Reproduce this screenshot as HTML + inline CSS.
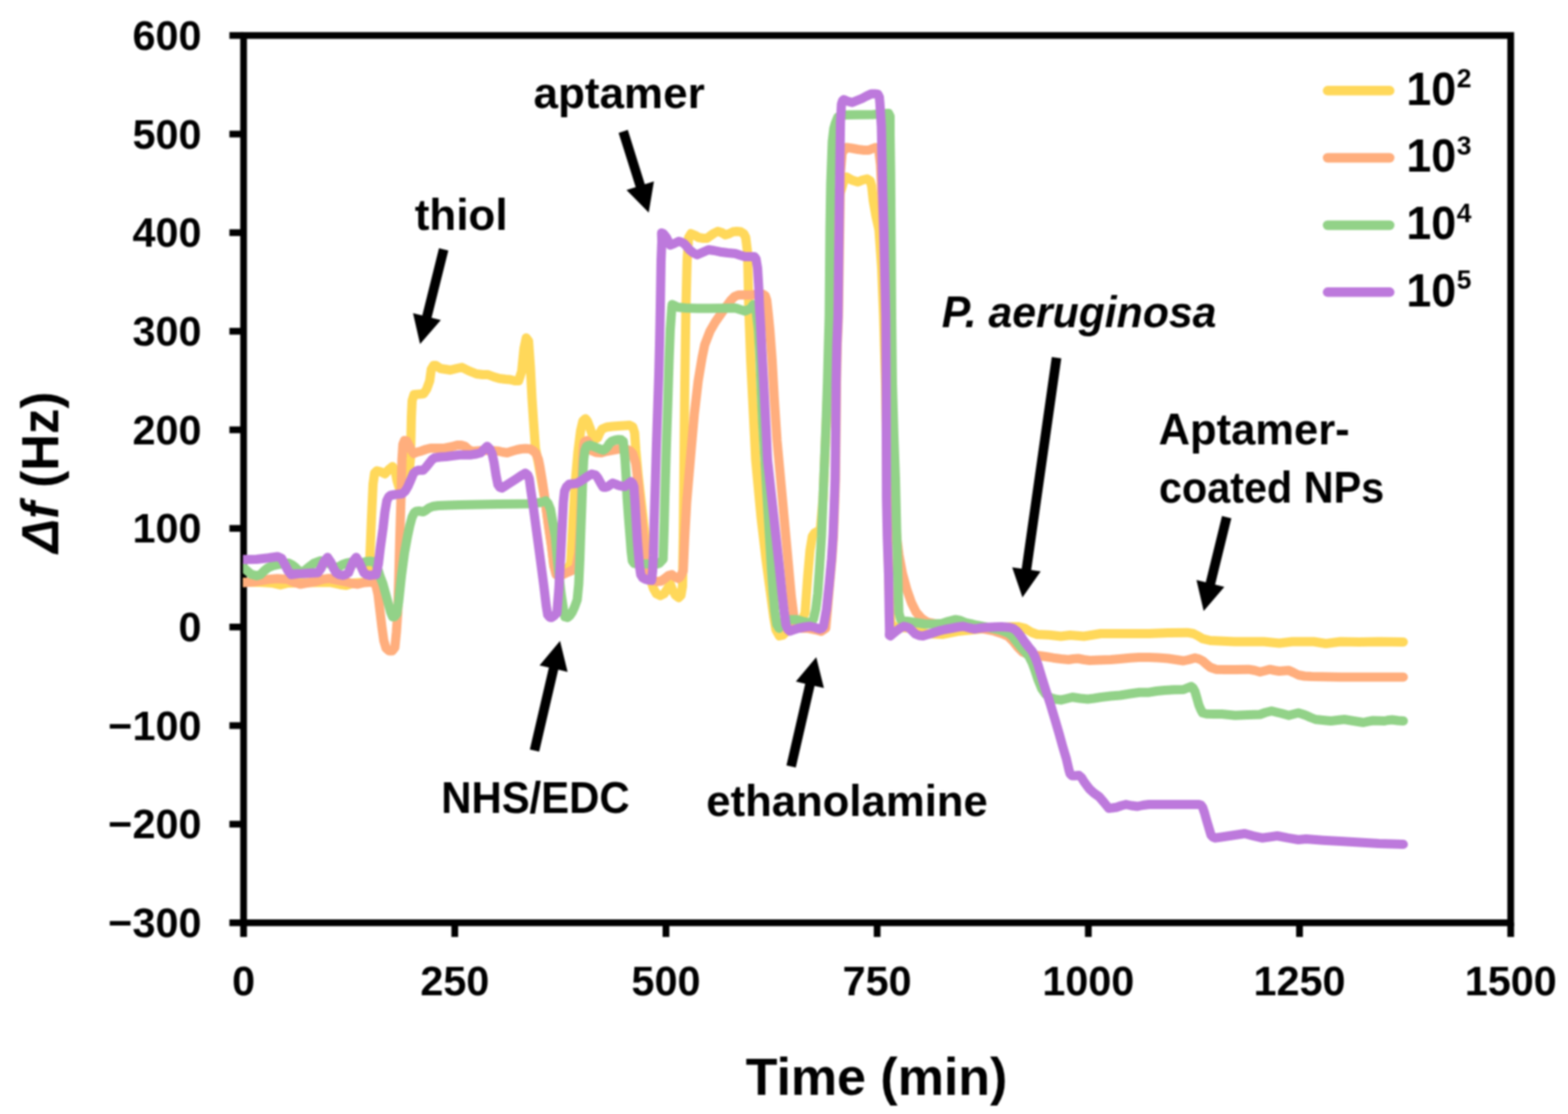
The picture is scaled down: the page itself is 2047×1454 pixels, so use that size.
<!DOCTYPE html>
<html lang="en"><head><meta charset="utf-8"><title>QCM frequency shift</title>
<style>html,body{margin:0;padding:0;background:#fff}svg{display:block}text{font-family:"Liberation Sans", sans-serif;font-weight:bold;fill:#000}</style></head><body>
<svg width="2047" height="1454" viewBox="0 0 2047 1454">
<defs><filter id="soft" x="0" y="0" width="2047" height="1454" filterUnits="userSpaceOnUse" color-interpolation-filters="sRGB"><feGaussianBlur stdDeviation="0.85"/></filter></defs>
<g filter="url(#soft)">
<rect width="2047" height="1454" fill="#fff"/>
<g stroke="#000" stroke-width="8.8" fill="none">
<rect x="318.0" y="46.3" width="1654.2" height="1158.1000000000001"/>
<line x1="299.5" y1="46.30" x2="318.0" y2="46.30"/>
<line x1="299.5" y1="174.98" x2="318.0" y2="174.98"/>
<line x1="299.5" y1="303.66" x2="318.0" y2="303.66"/>
<line x1="299.5" y1="432.33" x2="318.0" y2="432.33"/>
<line x1="299.5" y1="561.01" x2="318.0" y2="561.01"/>
<line x1="299.5" y1="689.69" x2="318.0" y2="689.69"/>
<line x1="299.5" y1="818.37" x2="318.0" y2="818.37"/>
<line x1="299.5" y1="947.04" x2="318.0" y2="947.04"/>
<line x1="299.5" y1="1075.72" x2="318.0" y2="1075.72"/>
<line x1="299.5" y1="1204.40" x2="318.0" y2="1204.40"/>
<line x1="318.00" y1="1204.4" x2="318.00" y2="1222.9"/>
<line x1="593.70" y1="1204.4" x2="593.70" y2="1222.9"/>
<line x1="869.40" y1="1204.4" x2="869.40" y2="1222.9"/>
<line x1="1145.10" y1="1204.4" x2="1145.10" y2="1222.9"/>
<line x1="1420.80" y1="1204.4" x2="1420.80" y2="1222.9"/>
<line x1="1696.50" y1="1204.4" x2="1696.50" y2="1222.9"/>
<line x1="1972.20" y1="1204.4" x2="1972.20" y2="1222.9"/>
</g>
<clipPath id="plot"><rect x="317.2" y="46.3" width="1655.0" height="1158.1000000000001"/></clipPath>
<g fill="none" stroke-width="12" stroke-linejoin="round" stroke-linecap="round" clip-path="url(#plot)">
<polyline stroke="#FFD85A" points="310.0,760.0 318.0,760.0 340.0,760.0 355.0,761.0 366.0,763.5 376.0,761.0 400.0,760.5 430.0,760.0 444.0,763.0 452.0,764.0 462.0,761.0 476.0,760.0 481.0,758.0 483.0,725.0 485.0,675.0 487.0,632.0 489.0,617.5 492.0,614.5 497.5,616.0 502.5,618.5 507.0,613.5 512.5,609.0 516.0,615.0 518.5,628.0 521.0,636.0 526.0,633.0 531.0,626.0 534.5,612.0 535.8,599.0 536.5,570.0 537.0,545.0 538.0,523.0 540.5,515.0 547.0,514.5 553.0,514.0 557.0,508.0 561.0,497.0 563.0,482.0 566.0,477.0 569.0,477.0 575.0,481.0 588.0,483.0 596.0,481.0 603.0,479.5 612.0,484.0 622.0,488.0 630.0,489.0 637.0,489.0 645.0,492.0 652.0,494.0 660.0,495.0 666.0,495.5 672.0,497.0 677.0,497.0 681.0,485.0 684.0,455.0 687.0,441.0 690.0,445.0 692.5,480.0 694.5,520.0 696.5,550.0 699.0,585.0 703.0,605.0 707.0,628.0 712.0,656.0 716.0,686.0 720.0,713.0 723.0,738.0 726.0,749.0 730.0,751.0 735.0,749.0 740.0,745.0 745.0,735.0 748.0,680.0 751.0,630.0 754.5,590.0 758.0,562.0 761.0,549.5 764.3,546.5 767.0,550.0 770.0,558.0 773.0,567.0 776.0,573.0 780.0,572.0 783.0,565.0 786.0,560.0 792.0,557.5 800.0,556.5 807.0,556.0 815.0,555.5 822.0,555.0 826.0,557.0 828.5,565.0 830.0,587.0 833.0,620.0 837.0,655.0 841.0,690.0 845.0,725.0 849.0,755.0 853.0,768.0 857.0,775.0 862.0,777.5 867.0,775.0 871.0,769.0 875.0,762.0 878.0,770.0 882.0,777.0 886.0,780.0 889.0,777.0 891.0,765.0 892.0,700.0 893.0,600.0 894.0,500.0 895.5,400.0 897.0,340.0 899.0,310.0 902.0,305.0 907.0,307.0 912.0,310.0 918.0,311.0 923.0,311.0 927.0,308.0 932.0,304.5 937.0,302.0 942.0,303.5 947.0,306.5 952.0,305.0 957.0,302.5 962.0,302.0 967.0,302.5 971.0,305.0 973.5,310.0 976.0,330.0 977.5,400.0 980.0,470.0 982.5,520.0 986.5,600.0 993.5,675.0 1000.0,730.0 1006.0,775.0 1010.0,805.0 1013.0,822.0 1017.5,830.0 1022.0,829.0 1027.0,824.0 1035.0,820.0 1045.0,814.0 1051.0,800.0 1054.5,752.0 1057.5,718.0 1060.5,700.0 1063.5,695.5 1067.0,694.0 1071.0,690.0 1074.5,650.0 1080.0,520.0 1085.0,420.0 1090.0,330.0 1096.0,255.0 1103.0,232.0 1105.0,231.0 1112.0,235.0 1120.0,237.5 1126.0,235.0 1132.0,233.5 1136.0,236.0 1138.0,243.0 1140.0,262.0 1143.5,282.0 1147.5,300.0 1151.0,350.0 1153.5,413.0 1156.0,500.0 1157.5,600.0 1159.0,700.0 1161.0,780.0 1163.0,812.0 1167.0,818.0 1175.0,819.0 1190.0,820.0 1200.0,823.0 1210.0,827.0 1230.0,828.0 1250.0,824.0 1270.0,822.0 1290.0,820.0 1310.0,819.0 1322.0,818.0 1330.0,818.0 1338.0,820.0 1347.0,825.5 1354.0,828.0 1370.0,828.7 1385.0,830.5 1397.0,829.0 1415.0,830.5 1437.0,827.0 1462.0,827.0 1500.0,827.0 1525.0,826.0 1550.0,825.7 1558.0,827.0 1564.0,830.0 1570.0,833.7 1580.0,836.0 1612.0,837.5 1650.0,837.5 1670.0,839.5 1687.0,837.5 1715.0,837.5 1731.0,840.0 1750.0,837.5 1775.0,838.0 1800.0,837.5 1832.0,838.0"/>
<polyline stroke="#FFAE7D" points="310.0,760.5 318.0,760.5 330.0,759.5 340.0,758.0 352.0,756.0 362.0,755.2 375.0,756.0 384.0,760.0 392.0,762.5 400.0,761.0 412.0,759.0 422.0,756.0 430.0,755.0 440.0,757.0 450.0,759.0 460.0,761.5 467.0,762.5 475.0,760.5 482.0,760.0 488.0,760.0 491.0,765.0 493.5,776.0 496.0,797.0 498.5,818.0 501.0,836.0 504.0,846.0 508.0,849.5 512.0,849.5 515.5,845.0 517.5,825.0 519.2,800.0 520.7,750.0 522.0,700.0 523.5,650.0 524.7,600.0 526.0,580.0 528.0,575.0 531.0,575.5 534.0,581.5 537.0,587.5 540.0,592.0 545.0,590.0 550.0,588.7 556.0,586.5 562.0,585.0 570.0,585.0 580.0,585.0 590.0,583.0 597.0,581.0 602.0,581.0 607.0,582.5 612.0,587.0 617.0,589.0 630.0,588.0 640.0,588.0 650.0,588.7 656.0,590.0 662.0,591.0 668.0,589.0 675.0,587.0 680.0,586.0 686.0,585.5 692.0,586.0 697.0,589.0 700.0,592.5 703.0,600.0 705.0,610.0 708.0,628.0 712.0,655.0 716.0,685.0 720.0,712.0 723.0,738.0 726.0,750.0 730.0,752.5 735.0,750.0 740.0,747.5 746.0,745.0 752.0,741.0 755.5,722.0 757.5,690.0 759.0,650.0 760.0,620.0 761.0,595.0 762.0,581.0 763.0,576.5 766.0,575.0 768.0,577.0 772.0,588.0 778.0,590.5 785.0,591.0 792.0,589.0 800.0,587.5 808.0,586.0 817.0,586.0 822.0,588.0 826.0,592.0 830.0,605.0 833.0,630.0 836.0,660.0 840.0,700.0 843.0,735.0 846.0,752.0 852.0,757.5 858.0,759.0 863.0,758.5 868.0,755.0 873.0,751.0 877.0,750.0 881.0,753.0 885.0,755.0 888.0,753.0 892.0,745.0 894.0,700.0 896.5,655.0 899.5,620.0 902.5,585.0 906.5,540.0 911.5,497.0 916.5,467.0 920.0,450.0 927.0,432.0 934.0,420.0 941.0,410.0 948.0,400.0 954.0,392.0 959.0,387.0 964.0,385.0 972.0,385.0 980.0,385.0 990.0,384.0 996.0,384.0 999.0,386.0 1001.0,392.0 1003.0,410.0 1005.0,430.0 1008.0,470.0 1010.8,520.0 1014.4,575.0 1018.1,615.0 1021.8,655.0 1025.4,695.0 1029.1,735.0 1033.0,778.0 1036.0,802.0 1039.0,815.0 1046.0,820.0 1055.0,820.0 1065.0,822.0 1072.0,824.0 1078.0,820.0 1080.0,797.0 1083.0,762.5 1086.0,730.0 1088.0,700.0 1089.5,660.0 1090.7,625.0 1091.5,560.0 1092.0,500.0 1093.0,450.0 1094.5,413.0 1095.7,330.0 1097.2,225.0 1099.5,199.0 1105.0,192.5 1112.0,193.5 1120.0,195.0 1128.0,196.0 1134.0,196.0 1139.0,194.0 1143.0,192.5 1147.0,194.0 1149.5,215.0 1151.5,260.0 1154.0,320.0 1157.0,400.0 1160.5,480.0 1163.5,560.0 1166.0,620.0 1168.0,670.0 1170.5,700.0 1173.5,724.0 1178.0,748.0 1184.0,770.0 1190.0,787.0 1196.0,799.0 1203.0,807.0 1209.0,811.0 1212.5,812.5 1225.0,815.0 1240.0,817.0 1260.0,818.0 1280.0,820.0 1298.0,823.7 1308.0,827.0 1316.0,830.5 1323.0,837.5 1329.0,845.0 1335.0,851.0 1343.0,854.5 1354.0,855.5 1365.0,857.0 1375.0,858.7 1385.0,860.0 1395.0,861.0 1401.0,860.0 1407.5,859.5 1415.0,861.0 1422.5,862.0 1435.0,861.5 1450.0,861.0 1462.0,860.0 1475.0,858.7 1487.0,858.0 1500.0,858.0 1512.0,858.5 1525.0,859.5 1535.0,861.0 1545.0,862.5 1552.0,861.0 1560.0,858.7 1565.0,860.0 1570.0,862.5 1575.0,867.0 1580.0,871.0 1587.5,873.7 1600.0,874.0 1612.5,874.0 1630.0,873.7 1638.0,875.0 1645.0,877.0 1651.0,875.5 1657.5,873.7 1664.0,875.0 1670.0,876.0 1676.0,875.5 1682.5,875.0 1689.0,878.0 1695.0,881.0 1703.0,882.5 1712.5,883.0 1750.0,883.7 1800.0,883.7 1832.0,883.7"/>
<polyline stroke="#92D288" points="310.0,741.0 318.0,741.0 322.0,744.5 328.0,749.5 335.0,751.5 340.0,750.0 345.0,745.0 350.0,741.0 356.0,738.5 365.0,736.5 377.0,735.0 381.0,737.0 385.0,740.0 390.0,745.0 396.0,746.0 402.0,741.0 410.0,735.0 418.0,732.0 425.0,733.0 432.0,737.0 437.0,740.0 442.0,740.0 447.0,737.0 452.5,735.0 458.0,734.0 465.0,735.0 472.0,735.0 478.0,733.0 482.5,732.5 487.0,733.0 490.0,735.0 493.0,742.0 496.0,752.0 500.0,762.5 504.0,777.0 507.5,790.0 510.0,799.0 512.5,805.0 515.0,805.0 518.0,801.0 520.5,785.0 524.0,752.0 528.0,722.0 532.0,700.0 535.0,686.0 538.0,675.0 541.0,669.0 543.0,667.5 547.0,667.0 552.5,668.0 556.0,666.0 560.0,663.0 565.0,661.0 572.0,660.0 585.0,659.5 600.0,659.0 625.0,658.5 650.0,658.0 675.0,657.7 690.0,657.5 700.0,656.5 705.0,656.0 709.0,655.0 712.5,653.7 715.5,657.0 718.7,665.0 721.0,678.0 725.0,700.0 728.0,735.0 732.5,775.0 735.5,795.0 737.5,805.0 741.0,806.0 743.7,803.7 747.0,799.0 750.0,792.5 753.5,783.0 755.5,762.5 757.0,730.0 758.0,700.0 759.5,660.0 760.7,625.0 762.0,600.0 763.5,588.0 765.5,583.0 768.0,581.5 770.0,581.0 777.5,583.7 783.0,586.0 787.5,587.5 790.0,586.0 792.5,583.7 795.5,579.0 798.7,576.0 803.0,574.5 807.5,573.7 811.0,574.0 813.7,576.0 815.0,590.0 816.0,600.0 817.5,625.0 818.7,650.0 820.5,675.0 822.5,700.0 824.0,720.0 825.5,732.0 828.0,735.5 840.0,736.0 850.0,736.0 858.0,736.0 861.0,735.0 865.7,730.0 867.0,690.0 868.0,650.0 870.0,580.0 872.0,520.0 873.5,470.0 875.0,430.0 877.0,402.0 877.5,397.5 881.0,399.0 885.0,401.0 895.0,402.0 910.0,402.5 925.0,402.5 945.0,402.3 960.0,402.0 966.0,404.0 972.5,406.0 976.0,404.5 980.0,402.5 983.7,397.5 987.5,408.0 990.0,430.0 992.0,465.0 993.4,500.0 995.6,550.0 998.5,600.0 1001.5,650.0 1004.6,700.0 1007.0,740.0 1009.5,775.0 1011.5,798.0 1014.0,815.0 1017.0,820.0 1018.0,818.0 1024.0,812.0 1030.0,808.7 1040.0,808.7 1048.0,811.0 1055.0,812.5 1059.0,812.0 1062.0,808.0 1065.0,795.0 1067.5,775.0 1070.0,740.0 1072.5,700.0 1074.5,650.0 1076.5,600.0 1078.5,550.0 1080.2,500.0 1081.5,450.0 1082.5,413.0 1083.5,300.0 1084.5,240.0 1086.5,185.0 1088.5,168.0 1090.5,161.0 1093.7,153.0 1098.0,150.5 1105.0,150.0 1120.0,149.8 1140.0,149.5 1152.0,148.5 1160.0,148.0 1162.0,152.0 1162.0,175.0 1162.7,225.0 1163.5,330.0 1164.0,413.0 1165.0,500.0 1167.0,570.0 1169.0,625.0 1170.5,690.0 1171.5,725.0 1172.5,770.0 1173.5,800.0 1176.0,809.0 1180.0,810.5 1185.0,811.0 1195.0,812.5 1207.5,814.5 1220.0,814.5 1230.0,813.7 1238.0,811.0 1247.5,808.7 1254.0,810.0 1260.0,812.5 1267.0,814.0 1275.0,816.0 1290.0,819.0 1305.0,822.0 1316.0,826.0 1322.0,831.0 1327.5,838.0 1333.0,845.0 1338.5,851.0 1343.5,857.0 1347.5,865.0 1351.5,876.0 1355.5,888.0 1360.0,899.0 1365.0,906.0 1371.0,910.5 1377.5,912.5 1385.0,913.7 1392.0,912.0 1400.0,910.0 1410.0,911.5 1420.0,912.5 1428.0,911.5 1437.5,910.0 1450.0,908.5 1462.5,907.5 1475.0,905.5 1487.5,903.7 1500.0,903.7 1510.0,902.0 1520.0,901.0 1532.0,900.3 1545.0,900.0 1550.0,898.0 1555.0,896.0 1557.5,898.0 1560.0,902.5 1562.5,911.0 1565.0,920.0 1567.5,926.0 1570.0,930.5 1575.0,931.7 1585.0,932.0 1595.0,932.0 1605.0,933.0 1612.5,933.7 1630.0,933.0 1645.0,932.5 1652.0,930.0 1660.0,928.0 1666.0,929.5 1672.5,931.0 1678.0,932.5 1682.5,933.7 1689.0,932.0 1695.0,930.5 1700.0,932.0 1705.0,933.7 1711.0,936.5 1717.5,939.0 1727.0,940.0 1737.5,941.0 1746.0,940.0 1755.0,939.0 1767.0,941.0 1780.0,943.0 1786.0,941.7 1792.5,940.5 1800.0,940.7 1807.5,941.0 1812.0,940.0 1817.5,939.5 1825.0,940.5 1832.0,941.0"/>
<polyline stroke="#BD79DC" points="310.0,730.2 318.0,730.2 335.0,730.0 350.0,728.3 362.5,726.5 367.5,728.7 372.0,737.0 376.0,745.0 380.0,750.0 387.0,749.0 395.0,748.7 405.0,748.0 415.0,747.5 419.0,742.0 423.0,733.0 427.5,727.5 432.0,734.0 435.5,742.0 438.7,747.5 443.0,750.0 447.5,751.0 451.0,750.0 455.0,747.5 458.0,740.0 461.5,732.0 465.0,727.5 469.0,734.0 472.0,741.0 475.0,747.5 478.5,750.0 482.5,751.0 486.0,750.5 491.0,750.0 494.0,736.0 496.5,715.0 500.0,690.0 502.5,668.0 505.0,653.5 507.5,648.5 510.0,646.5 516.0,645.5 525.0,644.5 529.0,641.0 532.5,635.0 536.0,627.0 540.0,617.5 543.0,615.0 546.0,613.7 552.5,613.7 556.0,610.0 560.0,605.0 564.0,600.0 567.5,597.5 575.0,596.5 582.5,596.0 590.0,595.0 600.0,593.7 615.0,593.7 622.0,592.5 627.5,591.0 632.0,586.5 636.0,582.5 639.5,586.0 642.5,592.5 645.0,604.0 647.5,620.0 650.0,632.5 652.5,636.0 655.0,637.0 660.0,634.0 672.5,626.0 680.0,621.0 686.0,617.5 689.0,620.0 691.0,625.0 693.0,640.0 696.0,660.0 700.0,690.0 705.0,727.0 710.0,765.0 713.0,790.0 715.0,802.5 717.5,805.5 720.0,806.0 723.0,804.0 727.0,800.0 729.5,770.0 732.0,725.0 734.0,685.0 735.5,655.0 737.0,641.0 739.5,635.5 743.0,632.0 752.5,631.0 758.0,628.0 762.5,625.0 767.5,621.5 772.5,618.7 777.5,620.0 780.0,623.0 782.5,627.5 785.0,632.0 787.5,636.0 790.5,636.0 793.7,635.0 797.0,632.5 800.0,630.5 804.0,632.0 807.5,633.7 812.0,634.5 816.0,635.0 820.0,631.5 823.7,628.7 826.0,631.0 827.5,635.0 829.0,655.0 830.5,680.0 832.0,705.0 833.7,725.0 835.0,740.0 836.5,750.0 839.0,754.0 842.5,756.0 846.0,757.0 850.7,757.5 852.0,745.0 853.0,725.0 854.0,680.0 855.7,625.0 857.0,580.0 858.0,550.0 859.0,520.0 860.0,490.0 861.0,450.0 862.0,400.0 863.0,340.0 864.0,315.0 863.7,304.0 866.0,305.0 870.0,310.0 873.0,316.0 875.0,320.0 880.0,318.0 886.0,315.0 889.5,316.0 892.5,317.5 896.0,321.0 900.0,326.0 905.0,330.0 910.0,332.5 917.0,329.5 925.0,326.0 932.0,327.0 940.0,328.7 950.0,330.0 960.0,331.0 966.0,333.0 972.5,335.0 980.0,335.0 985.0,335.0 987.0,338.0 989.0,350.0 990.5,375.0 991.5,400.0 993.0,425.0 994.5,455.0 997.0,500.0 1000.3,563.0 1002.0,600.0 1007.5,650.0 1013.0,700.0 1017.4,740.0 1021.0,775.0 1023.5,797.0 1026.0,815.0 1028.5,821.5 1031.0,823.7 1036.0,822.0 1042.5,820.0 1050.0,818.5 1057.5,817.5 1064.0,819.0 1070.0,821.0 1073.0,820.0 1075.0,817.5 1079.0,795.0 1082.5,762.5 1085.5,730.0 1087.5,700.0 1089.0,660.0 1090.2,625.0 1091.0,560.0 1091.5,500.0 1092.5,450.0 1094.0,413.0 1095.0,330.0 1096.3,225.0 1097.2,160.0 1098.5,136.0 1100.0,131.5 1101.5,130.0 1106.0,132.0 1112.5,133.7 1118.0,131.5 1125.0,128.7 1131.0,125.5 1137.5,122.5 1142.0,122.5 1146.0,123.0 1148.0,127.0 1148.7,135.0 1150.6,165.0 1151.3,200.0 1152.3,250.0 1153.8,300.0 1154.8,350.0 1156.3,413.0 1156.8,500.0 1157.3,650.0 1158.3,700.0 1160.0,750.0 1160.8,800.0 1161.3,825.0 1161.0,829.0 1162.5,830.0 1166.0,827.0 1170.0,823.7 1175.0,820.0 1180.0,817.5 1184.0,818.5 1187.5,820.0 1191.0,823.5 1195.0,827.5 1200.0,829.5 1205.0,830.0 1215.0,827.0 1225.0,823.7 1234.0,821.5 1242.5,820.0 1250.0,818.5 1257.5,817.5 1265.0,819.5 1272.5,821.0 1281.0,819.5 1290.0,818.7 1300.0,818.2 1307.5,818.0 1316.5,818.7 1322.5,820.0 1327.5,823.7 1332.5,830.0 1337.5,837.5 1342.5,844.0 1347.5,850.0 1351.5,858.0 1355.0,867.5 1360.0,884.0 1365.0,900.0 1371.5,920.0 1377.5,940.0 1382.5,957.0 1387.5,975.0 1392.0,990.0 1395.5,1005.0 1397.0,1010.0 1399.5,1012.5 1403.5,1012.5 1408.5,1012.0 1412.0,1015.0 1415.0,1020.0 1419.0,1025.5 1422.5,1030.0 1428.0,1035.0 1435.0,1040.0 1441.0,1047.0 1447.5,1055.0 1452.0,1054.5 1457.5,1053.7 1464.0,1051.5 1470.0,1050.0 1477.0,1051.5 1485.0,1052.5 1492.0,1051.0 1500.0,1050.0 1525.0,1050.0 1550.0,1050.0 1565.0,1050.0 1568.0,1051.0 1570.0,1053.7 1572.5,1061.0 1575.0,1070.0 1578.0,1080.0 1581.0,1090.0 1583.5,1092.5 1586.0,1093.7 1595.0,1092.5 1605.0,1091.0 1615.0,1089.5 1625.0,1088.0 1636.0,1091.0 1647.5,1093.7 1657.0,1092.5 1667.5,1091.0 1681.0,1093.7 1695.0,1096.0 1705.0,1095.0 1727.0,1096.7 1750.0,1098.0 1775.0,1099.5 1800.0,1101.0 1832.0,1102.0"/>
</g>
<g font-size="54">
<text x="263" y="64.8" text-anchor="end">600</text>
<text x="263" y="193.5" text-anchor="end">500</text>
<text x="263" y="322.2" text-anchor="end">400</text>
<text x="263" y="450.8" text-anchor="end">300</text>
<text x="263" y="579.5" text-anchor="end">200</text>
<text x="263" y="708.2" text-anchor="end">100</text>
<text x="263" y="836.9" text-anchor="end">0</text>
<text x="263" y="965.5" text-anchor="end">−100</text>
<text x="263" y="1094.2" text-anchor="end">−200</text>
<text x="263" y="1222.9" text-anchor="end">−300</text>
<text x="318.0" y="1299" text-anchor="middle">0</text>
<text x="593.7" y="1299" text-anchor="middle">250</text>
<text x="869.4" y="1299" text-anchor="middle">500</text>
<text x="1145.1" y="1299" text-anchor="middle">750</text>
<text x="1420.8" y="1299" text-anchor="middle">1000</text>
<text x="1696.5" y="1299" text-anchor="middle">1250</text>
<text x="1972.2" y="1299" text-anchor="middle">1500</text>
</g>
<text x="696.47" y="141.2" font-size="58" textLength="223.55" lengthAdjust="spacingAndGlyphs">aptamer</text>
<text x="541.48" y="300" font-size="58" textLength="121.18" lengthAdjust="spacingAndGlyphs">thiol</text>
<text x="1229.49" y="427.4" font-size="58" textLength="358.53" lengthAdjust="spacingAndGlyphs" font-style="italic">P. aeruginosa</text>
<text x="1512.48" y="579.5" font-size="58" textLength="249.54" lengthAdjust="spacingAndGlyphs">Aptamer-</text>
<text x="1512.97" y="656" font-size="58" textLength="294.06" lengthAdjust="spacingAndGlyphs">coated NPs</text>
<text x="575.90" y="1061" font-size="58" textLength="246.15" lengthAdjust="spacingAndGlyphs">NHS/EDC</text>
<text x="921.97" y="1065" font-size="58" textLength="367.55" lengthAdjust="spacingAndGlyphs">ethanolamine</text>
<text x="973.49" y="1428.6" font-size="68.5" textLength="341.55" lengthAdjust="spacingAndGlyphs">Time (min)</text>
<text transform="translate(76,721.7) rotate(-90)" font-size="68.5" textLength="210.5" lengthAdjust="spacingAndGlyphs"><tspan font-style="italic">Δf</tspan> (Hz)</text>
<polygon points="573.1,324.0 551.3,411.7 539.2,408.7 548.4,449.1 575.5,417.7 563.4,414.7 585.3,327.0" fill="#000"/>
<polygon points="807.6,173.4 829.9,244.2 817.9,247.9 846.9,277.6 853.7,236.7 841.8,240.4 819.6,169.6" fill="#000"/>
<polygon points="1373.1,465.9 1333.8,742.3 1321.4,740.5 1334.8,779.8 1358.6,745.8 1346.2,744.0 1385.5,467.7" fill="#000"/>
<polygon points="1595.3,673.5 1574.1,760.1 1562.0,757.1 1571.4,797.5 1598.4,766.0 1586.3,763.0 1607.5,676.5" fill="#000"/>
<polygon points="703.9,981.0 728.8,874.1 741.0,876.9 731.1,836.6 704.4,868.4 716.6,871.2 691.7,978.2" fill="#000"/>
<polygon points="1038.9,1001.8 1063.4,895.2 1075.6,898.0 1065.6,857.7 1039.0,889.6 1051.2,892.4 1026.7,999.0" fill="#000"/>
<g stroke-width="12.5" stroke-linecap="round" fill="none">
<line x1="1733.2" y1="118.3" x2="1814.2" y2="118.3" stroke="#FFD85A"/>
<line x1="1733.2" y1="206.0" x2="1814.2" y2="206.0" stroke="#FFAE7D"/>
<line x1="1733.2" y1="294.0" x2="1814.2" y2="294.0" stroke="#92D288"/>
<line x1="1733.2" y1="381.3" x2="1814.2" y2="381.3" stroke="#BD79DC"/>
</g>
<text font-size="61"><tspan x="1836" y="136.5" textLength="65" lengthAdjust="spacingAndGlyphs">10</tspan><tspan x="1901.8" y="113.9" font-size="34.5">2</tspan></text>
<text font-size="61"><tspan x="1836" y="224.2" textLength="65" lengthAdjust="spacingAndGlyphs">10</tspan><tspan x="1901.8" y="201.6" font-size="34.5">3</tspan></text>
<text font-size="61"><tspan x="1836" y="312.2" textLength="65" lengthAdjust="spacingAndGlyphs">10</tspan><tspan x="1901.8" y="289.6" font-size="34.5">4</tspan></text>
<text font-size="61"><tspan x="1836" y="399.5" textLength="65" lengthAdjust="spacingAndGlyphs">10</tspan><tspan x="1901.8" y="376.9" font-size="34.5">5</tspan></text>
</g>
</svg></body></html>
